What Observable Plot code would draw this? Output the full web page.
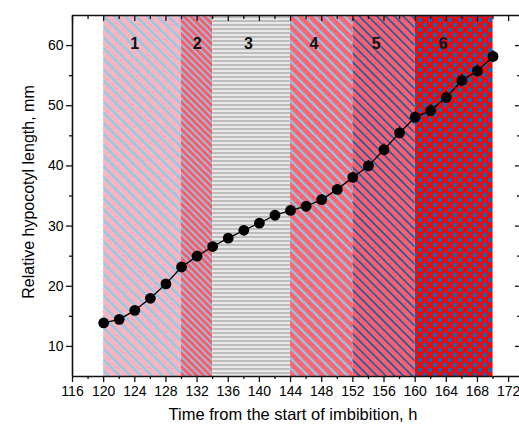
<!DOCTYPE html>
<html>
<head>
<meta charset="utf-8">
<script src="https://cdn.jsdelivr.net/npm/d3@7"></script>
<script src="https://cdn.jsdelivr.net/npm/@observablehq/plot@0.6"></script>
<style>
  html, body { margin: 0; padding: 0; background: #ffffff; }
  #chart svg { display: block; background: #f9f9f9; box-shadow: inset 14px 7px 0 #ffffff; }
</style>
</head>
<body>
<div id="chart"></div>
<script>
// ---- data ----
const hours  = [120,122,124,126,128,130,132,134,136,138,140,142,144,146,148,150,152,154,156,158,160,162,164,166,168,170];
const lengthMm = [13.9,14.5,16.0,18.0,20.4,23.2,25.0,26.6,28.0,29.3,30.5,31.8,32.6,33.3,34.4,36.1,38.1,40.0,42.7,45.5,48.1,49.2,51.4,54.2,55.8,58.2];
const errMm  = [0.5,0.5,0.6,0.7,0.7,0.8,0.8,0.7,0.7,0.7,0.7,0.7,0.7,0.7,0.8,0.8,0.9,0.9,1.0,1.0,1.0,1.0,1.0,1.0,1.0,1.0];

const bandStart = [120,130,134,144,152,160];
const bandEnd   = [130,134,144,152,160,170];
const bandLabel = ["1","2","3","4","5","6"];
const bandLabelX = [124,132,138.6,147,155,163.6];
const bandPattern = ["p1","p2","p3","p4","p5","p6"];

const xDomain = [116, 173.4];
const yDomain = [5, 65];
const xMajor = [116,120,124,128,132,136,140,144,148,152,156,160,164,168,172];
const xMinor = [118,122,126,130,134,138,142,146,150,154,158,162,166,170];
const yMajor = [10,20,30,40,50,60];
const yMinor = [15,25,35,45,55];

const xTitle = "Time from the start of imbibition, h";
const yTitle = "Relative hypocotyl length, mm";

// ---- tables ----
const points = hours.map((h, i) => ({h, v: lengthMm[i], lo: lengthMm[i] - errMm[i], hi: lengthMm[i] + errMm[i]}));
const bands = bandStart.map((s, i) => ({s, e: bandEnd[i], label: bandLabel[i], lx: bandLabelX[i], fill: `url(#${bandPattern[i]})`}));

const font = "'Liberation Sans', Arial, sans-serif";
const blank = () => "";

const chart = Plot.plot({
  width: 519,
  height: 434,
  marginLeft: 72,
  marginRight: 0,
  marginTop: 15,
  marginBottom: 58,
  style: {fontFamily: font, background: "transparent", color: "#000"},
  x: {domain: xDomain},
  y: {domain: yDomain},
  marks: [
    Plot.rectY(bands, {x1: "s", x2: "e", y1: yDomain[0], y2: yDomain[1], fill: "fill"}),
    Plot.text(bands, {x: "lx", text: "label", frameAnchor: "top", dy: 22, fontSize: 16, fontWeight: "bold", fill: "#111"}),
    Plot.ruleX(points, {x: "h", y1: "lo", y2: "hi", stroke: "#000", strokeWidth: 1.2}),
    Plot.line(points, {x: "h", y: "v", stroke: "#000", strokeWidth: 1.3}),
    Plot.dot(points, {x: "h", y: "v", r: 5.4, fill: "#000", stroke: "none"}),
    // axes
    Plot.axisX(xMajor, {anchor: "bottom", tickSize: 6, tickPadding: 4, fontSize: 14, label: null, stroke: "#111", strokeWidth: 1.3}),
    Plot.axisX(xMinor, {anchor: "bottom", tickSize: 3, tickFormat: blank, label: null, stroke: "#111", strokeWidth: 1.3}),
    Plot.axisX(xMajor, {anchor: "top", tickSize: -5, tickFormat: blank, label: null, stroke: "#111", strokeWidth: 1.3}),
    Plot.axisX(xMinor, {anchor: "top", tickSize: -3, tickFormat: blank, label: null, stroke: "#111", strokeWidth: 1.3}),
    Plot.axisY(yMajor, {anchor: "left", tickSize: 6, tickPadding: 3, fontSize: 14, label: null, stroke: "#111", strokeWidth: 1.3}),
    Plot.axisY(yMinor, {anchor: "left", tickSize: 3, tickFormat: blank, label: null, stroke: "#111", strokeWidth: 1.3}),
    Plot.axisY(yMajor, {anchor: "right", tickSize: -5, tickFormat: blank, label: null, stroke: "#111", strokeWidth: 1.3}),
    Plot.axisY(yMinor, {anchor: "right", tickSize: -3, tickFormat: blank, label: null, stroke: "#111", strokeWidth: 1.3}),
    Plot.ruleY([yDomain[0]], {stroke: "#111", strokeWidth: 1.6}),
    Plot.ruleY([yDomain[1]], {stroke: "#111", strokeWidth: 1.6}),
    Plot.ruleX([xDomain[0]], {stroke: "#111", strokeWidth: 1.6}),
    Plot.text([xTitle], {frameAnchor: "bottom", textAnchor: "middle", dy: 43, dx: -3, fontSize: 16.5, fill: "#000"}),
    Plot.text([yTitle], {frameAnchor: "left", textAnchor: "middle", rotate: -90, dx: -44, dy: -4, fontSize: 16, fill: "#000"})
  ]
});

// pattern definitions
const defs = d3.select(chart).insert("defs", ":first-child");
function stripes(id, period, bg, fg, sw) {
  const p = defs.append("pattern").attr("id", id).attr("patternUnits", "userSpaceOnUse")
    .attr("width", period).attr("height", period).attr("patternTransform", "rotate(-45)");
  p.append("rect").attr("width", period).attr("height", period).attr("fill", bg);
  p.append("rect").attr("width", sw).attr("height", period).attr("fill", fg);
}
stripes("p1", 7.6, "#ffb3bd", "#86cdee", 2.4);
stripes("p2", 4.8, "#ff5a66", "#86cdee", 1.7);
stripes("p4", 7.0, "#ff6470", "#86cdee", 2.2);
stripes("p5", 6.2, "#ff5f6a", "#1560ab", 1.7);
{
  const p = defs.append("pattern").attr("id", "p3").attr("patternUnits", "userSpaceOnUse").attr("width", 4).attr("height", 4);
  p.append("rect").attr("width", 4).attr("height", 4).attr("fill", "#e8e8e8");
  p.append("rect").attr("width", 4).attr("height", 2).attr("fill", "#bdbdbd");
}
{
  const p = defs.append("pattern").attr("id", "p6").attr("patternUnits", "userSpaceOnUse").attr("width", 10).attr("height", 10);
  p.append("rect").attr("width", 10).attr("height", 10).attr("fill", "#ff0000");
  [[0,0],[10,0],[0,10],[10,10],[5,5]].forEach(([cx, cy]) =>
    p.append("circle").attr("cx", cx).attr("cy", cy).attr("r", 2.4).attr("fill", "#1766b0"));
}

document.getElementById("chart").appendChild(chart);
</script>
</body>
</html>
